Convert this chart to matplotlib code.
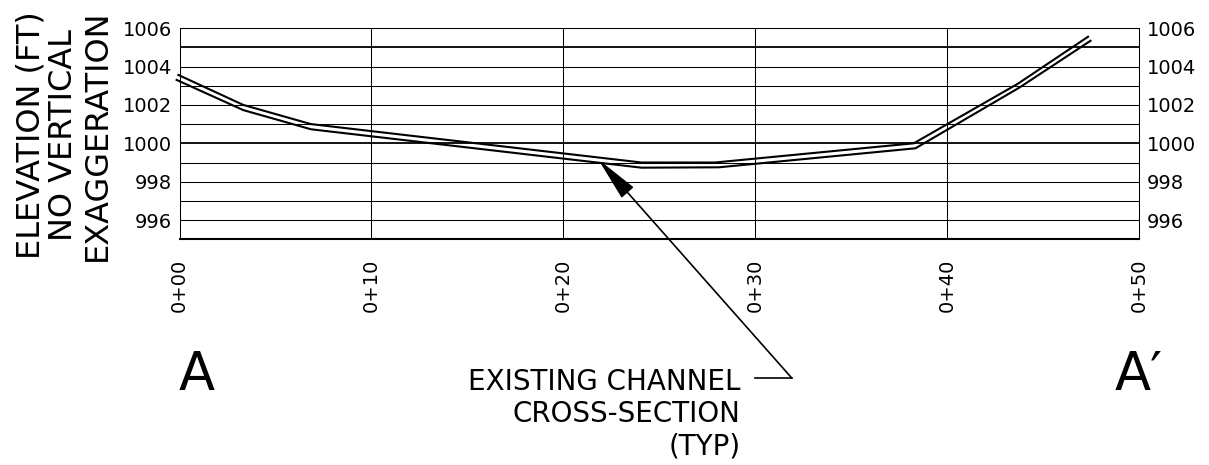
import matplotlib
matplotlib.use('Agg')
import matplotlib.pyplot as plt

sta_top = [-0.06, 3.32, 6.85, 24.07, 27.9, 38.25, 43.67, 47.33]
elev_top = [1003.56, 1002.0, 1001.0, 999.0, 999.0, 1000.0, 1003.1, 1005.55]
sta_bot = [-0.15, 3.32, 6.85, 24.07, 28.1, 38.34, 43.75, 47.46]
elev_bot = [1003.3, 1001.73, 1000.73, 998.73, 998.75, 999.74, 1002.9, 1005.34]

x_ticks = [0, 10, 20, 30, 40, 50]
x_labels = ['0+00', '0+10', '0+20', '0+30', '0+40', '0+50']
y_ticks = [996, 998, 1000, 1002, 1004, 1006]
y_grid = [996, 997, 998, 999, 1000, 1001, 1002, 1003, 1004, 1005]
y_major = [1000, 1005]

fig = plt.figure(figsize=(12.09, 4.65), dpi=100)
ax = fig.add_axes([179.5 / 1209, 1 - 239.3 / 465, 959.8 / 1209, 211.2 / 465])
ax.set_xlim(0, 50)
ax.set_ylim(995, 1006)

# grid
for y in y_grid:
    lw = 1.3 if y in y_major else 0.75
    ax.axhline(y, color='black', lw=lw, zorder=1)
for x in x_ticks[1:-1]:
    ax.axvline(x, color='black', lw=0.75, zorder=1)

for s in ['top', 'left', 'right']:
    ax.spines[s].set_linewidth(0.75)
ax.spines['bottom'].set_linewidth(1.5)

# cross-section lines
ax.plot(sta_top, elev_top, color='black', lw=1.5, clip_on=False, zorder=3)
ax.plot(sta_bot, elev_bot, color='black', lw=1.5, clip_on=False, zorder=3)

# ticks
ax.set_xticks(x_ticks)
ax.set_xticklabels(x_labels, rotation=90, fontsize=14)
ax.set_yticks(y_ticks)
ax.set_yticklabels([str(v) for v in y_ticks], fontsize=14)
ax.tick_params(axis='x', length=0, pad=14)
ax.tick_params(axis='y', length=0, pad=5.5, labelleft=True, labelright=True)

# y label
fig.text(64 / 1209, 1 - 135 / 465, 'ELEVATION (FT)\nNO VERTICAL\nEXAGGERATION',
         rotation=90, ha='center', va='center', multialignment='center',
         fontsize=23, linespacing=1.1)

# leader and note
ax.plot([29.98, 31.89], [987.78, 987.78], color='black', lw=1.2, clip_on=False)
ax.annotate('', xy=(21.81, 999.17), xytext=(31.89, 987.78),
            xycoords='data', textcoords='data', annotation_clip=False,
            arrowprops=dict(arrowstyle='-|>,head_length=28,head_width=5',
                            mutation_scale=1, color='black', lw=1.2,
                            shrinkA=0, shrinkB=0))
ax.text(29.24, 988.3, 'EXISTING CHANNEL\nCROSS-SECTION\n(TYP)',
        ha='right', va='top', multialignment='right', fontsize=20,
        linespacing=1.19, clip_on=False)

# section marks
ax.text(0.9, 987.15, 'A', ha='center', va='baseline', fontsize=38,
        clip_on=False)
ax.text(48.72, 987.15, 'A\u2032', ha='left', va='baseline', fontsize=38,
        clip_on=False)

fig.savefig('out.png', dpi=100)
